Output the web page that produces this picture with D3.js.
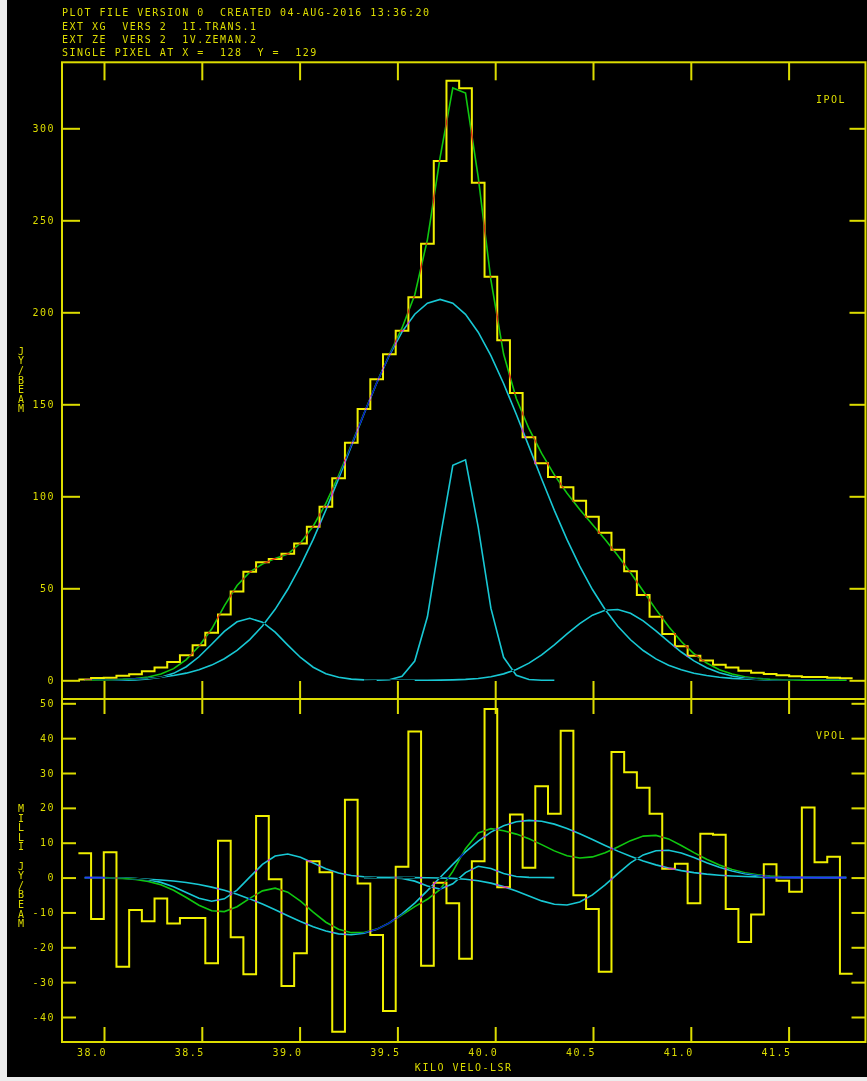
<!DOCTYPE html>
<html><head><meta charset="utf-8">
<script src="https://cdn.jsdelivr.net/npm/d3@7"></script>
<style>
html,body{margin:0;padding:0;background:#ececec;}
svg{display:block}
text{font-family:"DejaVu Sans Mono",monospace;font-size:10px;letter-spacing:1.5px;fill:#dcdc00;white-space:pre}
</style></head><body>
<svg id="chart" width="867" height="1081"></svg>
<script>
// ---- channel axis (km/s) ----
const velocity = [37.9015,37.9664,38.0313,38.0962,38.1611,38.2260,38.2908,38.3557,38.4206,38.4855,
38.5504,38.6153,38.6802,38.7451,38.8100,38.8749,38.9397,39.0046,39.0695,39.1344,
39.1993,39.2642,39.3291,39.3940,39.4589,39.5238,39.5886,39.6535,39.7184,39.7833,
39.8482,39.9131,39.9780,40.0429,40.1078,40.1727,40.2375,40.3024,40.3673,40.4322,
40.4971,40.5620,40.6269,40.6918,40.7567,40.8216,40.8864,40.9513,41.0162,41.0811,
41.1460,41.2109,41.2758,41.3407,41.4056,41.4705,41.5353,41.6002,41.6651,41.7300,41.7949];

// ---- IPOL panel (Jy/beam) ----
const ipol = [0.5,1.3,1.4,2.5,3.3,4.9,6.9,9.9,13.6,19.0,
25.9,35.7,48.2,59.0,64.1,65.9,68.8,74.4,83.5,94.3,
109.8,129.1,147.4,163.6,177.2,190.0,208.2,237.3,282.2,325.9,
321.7,270.4,219.3,184.8,156.1,132.1,117.9,110.5,104.9,97.6,
88.9,80.2,71.0,59.2,46.4,34.6,25.2,18.5,13.4,10.7,
8.5,6.9,5.2,4.1,3.4,2.7,2.2,1.8,1.8,1.4,1.1];
const ipolFit = [0.09,0.15,0.27,0.48,0.91,1.76,3.38,6.35,11.26,18.50,
27.86,40.5,51.5,58.8,63.2,66.2,68.63,74.59,83.72,96.15,
111.22,127.89,145.02,161.62,176.96,191.51,209.45,239.53,284.23,321.95,
319.17,273.47,217.58,177.30,153.16,136.74,123.29,111.64,101.62,92.84,
84.70,76.53,67.84,58.42,48.49,38.54,29.23,21.07,14.42,9.37,
5.77,3.39,1.90,1.02,0.54,0.28,0.13,0.07,0.03,0.02,0.01];
const ipolBroad = [0.09,0.15,0.25,0.41,0.67,1.08,1.68,2.58,3.88,5.71,
8.26,11.70,16.25,22.11,29.51,38.58,49.48,62.19,76.62,92.56,
109.61,127.25,144.80,161.52,176.64,189.35,198.97,204.98,207.00,204.92,
198.87,189.19,176.44,161.30,144.56,127.00,109.40,92.36,76.44,62.02,
49.32,38.45,29.39,22.02,16.18,11.64,8.22,5.69,3.86,2.57,
1.67,1.07,0.67,0.41,0.25,0.15,0.08,0.05,0.03,0.02,0.01];
const ipolLeftStart = 0;
const ipolLeft = [0.00,0.01,0.02,0.07,0.24,0.68,1.70,3.77,7.38,12.79,
19.60,26.56,31.81,33.70,31.56,26.14,19.15,12.40,7.10,3.59,
1.61,0.64,0.22,0.07,0.02,0.00,0.00];
const ipolNarrowStart = 22;
const ipolNarrow = [0.00,0.03,0.30,2.15,10.46,34.51,77.13,116.80,119.81,83.27,
39.20,12.50,2.70,0.40,0.04,0.00];
const ipolRightStart = 23;
const ipolRight = [0.00,0.00,0.01,0.02,0.04,0.10,0.23,0.49,1.01,1.94,
3.50,5.90,9.34,13.85,19.28,25.18,30.82,35.38,38.08,38.45,
36.40,32.31,26.90,21.01,15.38,10.56,6.80,4.10,2.32,1.23,
0.61,0.29,0.13,0.05,0.02,0.01,0.00,0.00];

// ---- VPOL panel (milli Jy/beam) ----
const vpol = [7.0,-11.9,7.3,-25.6,-9.3,-12.5,-6.0,-13.2,-11.6,-11.6,
-24.6,10.6,-17.1,-27.7,17.7,-0.5,-31.1,-21.7,4.7,1.5,
-44.2,22.3,-1.7,-16.5,-38.3,3.1,41.9,-25.3,-1.5,-7.4,
-23.3,4.7,48.4,-2.8,18.1,2.8,26.2,18.3,42.1,-5.1,
-9.0,-27.0,36.0,30.2,25.8,18.3,2.5,4.0,-7.4,12.6,
12.3,-9.0,-18.5,-10.6,3.8,-0.9,-4.1,20.1,4.4,6.0,-27.6];
const vpolFit = [-0.04,-0.08,-0.15,-0.28,-0.55,-1.09,-2.06,-3.62,-5.71,-7.92,
-9.53,-9.76,-8.38,-5.98,-3.81,-3.04,-4.17,-6.77,-9.94,-12.81,
-14.82,-15.80,-15.75,-14.79,-13.03,-10.72,-8.35,-6.22,-3.39,1.76,
8.28,12.82,14.04,13.46,12.47,11.15,9.46,7.66,6.24,5.60,
5.93,7.11,8.75,10.6,11.9,12.1,11.1,9.2,7.16,5.27,
3.61,2.31,1.39,0.79,0.42,0.21,0.10,0.06,0.02,0.01,0.01];
const vpolBroad = [-0.04,-0.07,-0.12,-0.19,-0.30,-0.46,-0.68,-1.00,-1.43,-2.00,
-2.74,-3.66,-4.79,-6.11,-7.61,-9.24,-10.94,-12.60,-14.11,-15.34,
-16.14,-16.40,-15.99,-14.86,-13.00,-10.44,-7.31,-3.75,0.02,3.80,
7.35,10.48,13.03,14.88,16.00,16.40,16.14,15.33,14.09,12.58,
10.91,9.22,7.59,6.09,4.77,3.65,2.73,1.99,1.42,0.99,
0.68,0.45,0.30,0.19,0.12,0.07,0.04,0.03,0.02,0.01,0.01];
const vpolLeftStart = 0;
const vpolLeft = [0.00,-0.01,-0.03,-0.09,-0.25,-0.63,-1.38,-2.62,-4.28,-5.92,
-6.79,-6.10,-3.59,0.13,3.80,6.20,6.77,5.83,4.17,2.53,
1.32,0.60,0.24,0.08,0.02,0.00,0.00];
const vpolNarrowStart = 22;
const vpolNarrow = [0.00,-0.01,-0.05,-0.27,-1.02,-2.42,-3.30,-1.80,1.42,3.26,
2.61,1.17,0.33,0.06,0.01,0.00];
const vpolRightStart = 23;
const vpolRight = [0.00,0.00,-0.01,-0.02,-0.05,-0.11,-0.24,-0.49,-0.92,-1.60,
-2.59,-3.86,-5.31,-6.69,-7.67,-7.85,-6.98,-4.98,-2.11,1.16,
4.21,6.50,7.71,7.82,7.04,5.74,4.28,2.93,1.86,1.09,
0.60,0.30,0.14,0.06,0.03,0.00,0.00,0.00];
// velocity ranges where the V model lies on zero (drawn blue)
const vpolZeroRuns = [[37.9015, 38.005], [41.37, 41.7949]];

// ---- ticks & text ----
const xTicks = [38.0, 38.5, 39.0, 39.5, 40.0, 40.5, 41.0, 41.5];
const ipolTicks = [0, 50, 100, 150, 200, 250, 300];
const vpolTicks = [-40, -30, -20, -10, 0, 10, 20, 30, 40, 50];
const headerLines = [
  "PLOT FILE VERSION 0  CREATED 04-AUG-2016 13:36:20",
  "EXT XG  VERS 2  1I.TRANS.1",
  "EXT ZE  VERS 2  1V.ZEMAN.2",
  "SINGLE PIXEL AT X =  128  Y =  129"
];
const ipolLabel = "IPOL", vpolLabel = "VPOL";
const ipolUnit = "JY/BEAM", vpolUnit = "MILLI JY/BEAM";
const xTitle = "KILO VELO-LSR";

// ---- layout ----
const W = 867, H = 1081;
const frameL = 62, frameR = 865.5, frameT = 62.3, frameMid = 699, frameB = 1042;
const YEL = "#dcdc00", HIST = "#f0f000", CYAN = "#18c8d4", GREEN = "#10c810", BLUE = "#2838ff";

const svg = d3.select("#chart");
svg.append("rect").attr("x", 7).attr("y", 0).attr("width", W - 7).attr("height", 1077).attr("fill", "#000");

const x = d3.scaleLinear().domain([38, 41.5]).range([104, 788.6]);
const yI = d3.scaleLinear().domain([0, 300]).range([680.3, 128.3]);
const yV = d3.scaleLinear().domain([-40, 50]).range([1017, 703.3]);

// header
svg.append("g").selectAll("text").data(headerLines).join("text")
  .attr("x", frameL).attr("y", (d, i) => 16.3 + i * 13.35).text(d => d);

// frame
const frame = svg.append("g").attr("stroke", YEL).attr("stroke-width", 2).attr("fill", "none");
frame.append("rect").attr("x", frameL).attr("y", frameT).attr("width", frameR - frameL).attr("height", frameB - frameT);
frame.append("line").attr("x1", frameL).attr("x2", frameR).attr("y1", frameMid).attr("y2", frameMid);

// axes via d3 axis generators (ticks only, labels separate)
function tickAxis(gen, scale, ticks, len, tx, ty) {
  const g = svg.append("g").attr("transform", `translate(${tx},${ty})`)
    .call(gen(scale).tickValues(ticks).tickSize(len).tickFormat(""));
  g.select(".domain").remove();
  g.selectAll(".tick line").attr("stroke", YEL).attr("stroke-width", 2);
  return g;
}
// upper panel
tickAxis(d3.axisBottom, x, xTicks, 18, 0, frameT);
tickAxis(d3.axisTop, x, xTicks, 18, 0, frameMid);
tickAxis(d3.axisRight, yI, ipolTicks, 18, frameL, 0);
tickAxis(d3.axisLeft, yI, ipolTicks, 16, frameR, 0);
// lower panel
tickAxis(d3.axisBottom, x, xTicks, 15, 0, frameMid);
tickAxis(d3.axisTop, x, xTicks, 15, 0, frameB);
tickAxis(d3.axisRight, yV, vpolTicks, 14, frameL, 0);
tickAxis(d3.axisLeft, yV, vpolTicks, 14, frameR, 0);

// tick labels
svg.append("g").selectAll("text").data(ipolTicks).join("text")
  .attr("x", 55).attr("y", d => yI(d) + 3.6).attr("text-anchor", "end").text(d => d);
svg.append("g").selectAll("text").data(vpolTicks).join("text")
  .attr("x", 55).attr("y", d => yV(d) + 3.6).attr("text-anchor", "end").text(d => d);
svg.append("g").selectAll("text").data(xTicks).join("text")
  .attr("x", d => x(d) - 12).attr("y", 1056).attr("text-anchor", "middle").text(d => d.toFixed(1));
svg.append("text").attr("x", (frameL + frameR) / 2).attr("y", 1071).attr("text-anchor", "middle").text(xTitle);
svg.append("text").attr("x", 816).attr("y", yI(300) - 25.6).text(ipolLabel);
svg.append("text").attr("x", 816).attr("y", 738.6).text(vpolLabel);

// stacked vertical unit labels
function stacked(str, cy, pitch) {
  const chars = str.split("");
  svg.append("g").selectAll("text").data(chars).join("text")
    .attr("x", 21).attr("y", (d, i) => cy + (i - (chars.length - 1) / 2) * pitch + 3.6)
    .attr("text-anchor", "middle").style("letter-spacing", "0px").text(d => d);
}
stacked(ipolUnit, 380, 9.6);
stacked(vpolUnit, 866, 9.6);

// ---- data lines ----
const plot = svg.append("g").style("isolation", "isolate");
const lines = plot.append("g").style("mix-blend-mode", "normal");

function histPath(vals, y) {
  const w = velocity[1] - velocity[0];
  const pts = vals.map((v, i) => [velocity[i] - w / 2, v]);
  pts.push([velocity[vals.length - 1] + w / 2, vals[vals.length - 1]]);
  return d3.line().x(d => x(d[0])).y(d => y(d[1])).curve(d3.curveStepAfter)(pts);
}
function polyPath(vals, start, y) {
  return d3.line().x((d, i) => x(velocity[start + i])).y(d => y(d))(vals);
}
function draw(parent, d, color, width) {
  parent.append("path").attr("d", d).attr("fill", "none").attr("stroke", color)
    .attr("stroke-width", width).attr("stroke-linejoin", "miter")
    .style("mix-blend-mode", "difference");
}
// IPOL
draw(plot, histPath(ipol, yI), HIST, 2);
draw(plot, polyPath(ipolBroad, 0, yI), CYAN, 1.6);
draw(plot, polyPath(ipolLeft, ipolLeftStart, yI), CYAN, 1.6);
draw(plot, polyPath(ipolNarrow, ipolNarrowStart, yI), CYAN, 1.6);
draw(plot, polyPath(ipolRight, ipolRightStart, yI), CYAN, 1.6);
draw(plot, polyPath(ipolFit, 0, yI), GREEN, 1.6);
// VPOL
draw(plot, histPath(vpol, yV), HIST, 2);
draw(plot, polyPath(vpolBroad, 0, yV), CYAN, 1.6);
draw(plot, polyPath(vpolLeft, vpolLeftStart, yV), CYAN, 1.6);
draw(plot, polyPath(vpolNarrow, vpolNarrowStart, yV), CYAN, 1.6);
draw(plot, polyPath(vpolRight, vpolRightStart, yV), CYAN, 1.6);
draw(plot, polyPath(vpolFit, 0, yV), GREEN, 1.6);
svg.append("g").selectAll("line").data(vpolZeroRuns).join("line")
  .attr("x1", d => x(d[0])).attr("x2", d => x(d[1]))
  .attr("y1", yV(0)).attr("y2", yV(0)).attr("stroke", BLUE).attr("stroke-width", 1.6);
</script>
</body></html>
